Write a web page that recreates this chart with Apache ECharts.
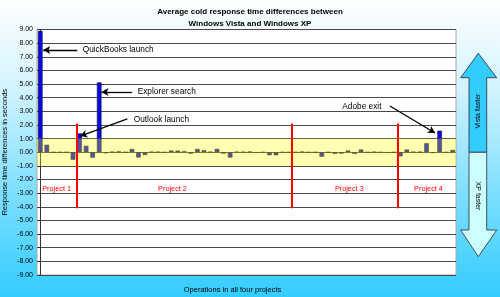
<!DOCTYPE html>
<html><head><meta charset="utf-8">
<script src="https://cdn.jsdelivr.net/npm/echarts@6/dist/echarts.min.js"></script>
<style>html,body{margin:0;padding:0;background:#fff}#c{width:500px;height:297px}</style>
</head><body><div id="c"></div>
<script>
// Response time differences (seconds), one per operation, in order across the four projects
const diffValues = [
  8.9, 0.55, 0, 0, 0, -0.55, 1.38, 0.47, -0.4, 5.12,
  -0.07, 0.03, 0.06, 0, 0.24, -0.38, -0.2, 0.03, 0.03, 0,
  0.13, 0.12, 0.07, -0.1, 0.24, 0.15, 0.03, 0.25, -0.1, -0.39,
  0.03, 0.02, 0.05, -0.03, 0, -0.22, -0.22, 0, 0, 0,
  0.05, 0, 0, -0.33, 0, -0.12, -0.1, 0.13, -0.12, 0.2,
  0, 0.03, 0, -0.03, 0, -0.3, 0.2, 0.03, 0.03, 0.66,
  -0.05, 1.58, 0, 0.17
];
const yMin = -9, yMax = 9, yStep = 1;
const bandRange = [-1, 1];
const projectNames = ['Project 1', 'Project 2', 'Project 3', 'Project 4'];
const projectLabelX = [2.5, 20.2, 47.2, 59.3];
const projectLabelY = -2.69;
const projectBoundaryX = [5.6, 38.4, 54.6];
const boundaryYRange = [2.1, -4.1];
const annotationTexts = ['QuickBooks launch', 'Explorer search', 'Outlook launch', 'Adobe exit'];
const annotationTextPos = [[6.4, 7.49], [14.8, 4.42], [14.2, 2.37], [52.2, 3.32]];
const annotationTextSide = ['right', 'right', 'right', 'left'];
const annotationArrowFrom = [[5.65, 7.49], [14.05, 4.42], [13.3, 2.44], [53.4, 3.39]];
const annotationArrowTo = [[0.45, 7.49], [9.35, 4.42], [6.1, 1.19], [60.3, 1.41]];

const FONT = 'Liberation Sans, Arial, sans-serif';
const chart = echarts.init(document.getElementById('c'), null, {renderer: 'canvas'});

const option = {
  animation: false,
  backgroundColor: new echarts.graphic.LinearGradient(0, 0, 0, 1, [
    {offset: 0, color: '#ffffff'},
    {offset: 0.3, color: '#d2f3ff'},
    {offset: 0.65, color: '#7ddfff'},
    {offset: 1, color: '#33ccff'}
  ]),
  title: {
    text: 'Average cold response time differences between\nWindows Vista and Windows XP',
    left: 'center', top: 1,
    textStyle: {fontFamily: FONT, fontSize: 8, fontWeight: 'bold', color: '#000', lineHeight: 11.7}
  },
  grid: {
    left: 37, top: 29.5, width: 419, height: 245.5,
    outerBoundsMode: 'none', containLabel: false,
    show: true, backgroundColor: '#ffffff', borderColor: '#a8a8a8', borderWidth: 1
  },
  xAxis: {
    type: 'value', min: -0.5, max: diffValues.length - 0.5,
    axisLine: {show: false}, axisTick: {show: false}, axisLabel: {show: false},
    splitLine: {show: false}
  },
  yAxis: {
    type: 'value', min: yMin, max: yMax, interval: yStep,
    name: 'Response time differences in seconds',
    nameLocation: 'middle', nameGap: 28.5, nameRotate: 90, nameMoveOverlap: false,
    nameTextStyle: {fontFamily: FONT, fontSize: 7.5, color: '#000'},
    axisLine: {show: true, lineStyle: {color: '#333', width: 1}},
    axisTick: {show: true, length: 2, lineStyle: {color: '#333'}},
    axisLabel: {fontFamily: FONT, fontSize: 7, color: '#000', margin: 4,
      formatter: v => v.toFixed(2)},
    splitLine: {show: true, lineStyle: {color: '#4a4a4a', width: 1}}
  },
  series: [
    {
      name: 'diff', type: 'bar', z: 2,
      barWidth: 4.6,
      data: diffValues.map((v, i) => [i, v]),
      itemStyle: {color: '#0808f0', borderColor: '#111', borderWidth: 0.6}
    },
    {
      name: 'band', type: 'scatter', data: [], z: 4, silent: true,
      markArea: {
        z: 4, silent: true,
        itemStyle: {color: 'rgba(255,255,0,0.3)'},
        data: [[{yAxis: bandRange[0]}, {yAxis: bandRange[1]}]]
      }
    },
    {
      name: 'projects', type: 'scatter', data: [], z: 6, silent: true,
      markLine: {
        z: 6, silent: true, symbol: ['none', 'none'],
        label: {show: false},
        lineStyle: {color: '#ff0000', width: 2, type: 'solid'},
        data: projectBoundaryX.map(x => [{coord: [x, boundaryYRange[0]]}, {coord: [x, boundaryYRange[1]]}])
      },
      markPoint: {
        z: 6, silent: true, symbol: 'rect', symbolSize: 1,
        itemStyle: {color: 'rgba(0,0,0,0)'},
        label: {show: true, position: 'inside', color: '#ff0000', fontFamily: FONT, fontSize: 7.3},
        data: projectNames.map((n, k) => ({coord: [projectLabelX[k], projectLabelY], label: {formatter: n}}))
      }
    },
    {
      name: 'notes', type: 'scatter', data: [], z: 7, silent: true,
      markLine: {
        z: 7, silent: true, symbol: ['none', 'arrow'], symbolSize: [6, 7],
        label: {show: false},
        lineStyle: {color: '#000', width: 1.3, type: 'solid'},
        data: annotationArrowFrom.map((p, k) => [{coord: p}, {coord: annotationArrowTo[k]}])
      },
      markPoint: {
        z: 7, silent: true, symbol: 'rect', symbolSize: 1,
        itemStyle: {color: 'rgba(0,0,0,0)'},
        data: annotationTexts.map((t, k) => ({
          coord: annotationTextPos[k],
          label: {show: true, formatter: t, position: annotationTextSide[k], distance: 0,
            color: '#000', fontFamily: FONT, fontSize: 8.3}
        }))
      }
    }
  ],
  graphic: [
    {type: 'polygon', z: 10, silent: true,
      shape: {points: [[478.3, 53.3], [496.7, 77.7], [486.7, 77.7], [486.7, 152.3], [469, 152.3], [469, 77.7], [460.7, 77.7]]},
      style: {fill: '#33ccff', stroke: '#2a2a2a', lineWidth: 0.8}},
    {type: 'polygon', z: 10, silent: true,
      shape: {points: [[469, 152.3], [486.7, 152.3], [486.7, 230], [496.7, 230], [478.3, 256.7], [460.7, 230], [469, 230]]},
      style: {fill: '#ccffff', stroke: '#2a2a2a', lineWidth: 0.8}},
    {type: 'text', z: 11, silent: true, x: 478, y: 111, rotation: Math.PI / 2,
      style: {text: 'Vista faster', fill: '#000', font: '7px ' + FONT, align: 'center', verticalAlign: 'middle'}},
    {type: 'text', z: 11, silent: true, x: 478, y: 196, rotation: -Math.PI / 2,
      style: {text: 'XP faster', fill: '#000', font: '7px ' + FONT, align: 'center', verticalAlign: 'middle'}},
    {type: 'text', z: 11, silent: true, x: 232.5, y: 290,
      style: {text: 'Operations in all four projects', fill: '#000', font: '7.5px ' + FONT, align: 'center', verticalAlign: 'middle'}}
  ]
};
chart.setOption(option);
</script>
</body></html>
